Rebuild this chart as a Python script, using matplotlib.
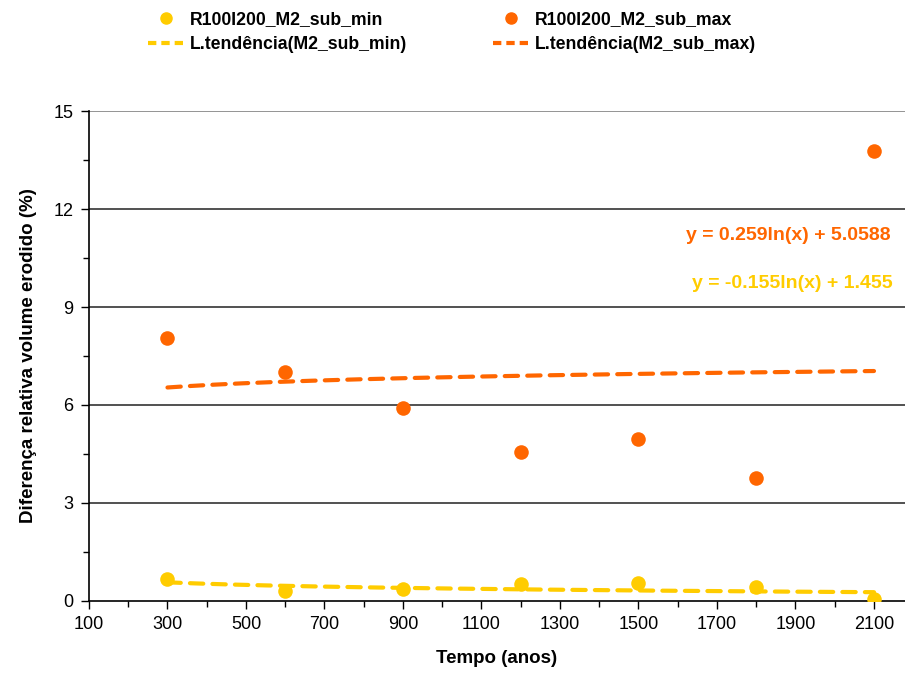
import numpy as np
import matplotlib
matplotlib.use("Agg")
import matplotlib.pyplot as plt
from matplotlib.lines import Line2D
from matplotlib.ticker import MultipleLocator

plt.rcParams['font.family'] = ['Liberation Sans', 'DejaVu Sans']

# Data
tempo = [300, 600, 900, 1200, 1500, 1800, 2100]
sub_min = [0.67, 0.31, 0.37, 0.52, 0.55, 0.43, 0.06]
sub_max = [8.05, 7.01, 5.91, 4.56, 4.96, 3.76, 13.77]

# Logarithmic trend coefficients: y = a*ln(x) + b
coef_min = (-0.155, 1.455)
coef_max = (0.259, 5.0588)

label_min = "R100I200_M2_sub_min"
label_max = "R100I200_M2_sub_max"
label_tmin = "L.tendência(M2_sub_min)"
label_tmax = "L.tendência(M2_sub_max)"

c_min = "#FFCC00"
c_max = "#FF6600"

fig = plt.figure(figsize=(9.05, 6.82), dpi=100)
ax = fig.add_axes([0.0983, 0.1188, 0.9017, 0.7184])

xt = np.linspace(tempo[0], tempo[-1], 200)
ax.plot(xt, coef_min[0] * np.log(xt) + coef_min[1], color=c_min,
        lw=3, dashes=(3.2, 2.2), dash_capstyle='round', zorder=3)
ax.plot(xt, coef_max[0] * np.log(xt) + coef_max[1], color=c_max,
        lw=3, dashes=(3.2, 2.2), dash_capstyle='round', zorder=3)
ax.scatter(tempo, sub_min, s=110, color=c_min, zorder=4, linewidths=0)
ax.scatter(tempo, sub_max, s=110, color=c_max, zorder=4, linewidths=0)

ax.set_xlim(100, 2179)
ax.set_ylim(0, 15)
ax.xaxis.set_minor_locator(MultipleLocator(100))
ax.yaxis.set_major_locator(MultipleLocator(3))
ax.yaxis.set_minor_locator(MultipleLocator(1.5))
ax.set_xticks(np.arange(100, 2101, 200))

ax.tick_params(axis='both', which='both', direction='out', color='black')
ax.tick_params(axis='both', which='major', length=6, width=1, labelsize=13, pad=5)
ax.tick_params(axis='both', which='minor', length=4, width=1)

for s in ['top', 'right']:
    ax.spines[s].set_visible(False)
for s in ['left', 'bottom']:
    ax.spines[s].set_color('black')
    ax.spines[s].set_linewidth(1.2)

for yv in [3, 6, 9, 12, 15]:
    ax.axhline(yv, color='#222222' if yv < 15 else '#777777', lw=1.1, zorder=1)

ax.set_xlabel("Tempo (anos)", fontsize=13.5, fontweight='bold', labelpad=12)
ax.set_ylabel("Diferença relativa volume erodido (%)", fontsize=13.5,
              fontweight='bold', labelpad=12)

ax.text(0.982, 0.745, "y = 0.259ln(x) + 5.0588", transform=ax.transAxes,
        ha='right', va='center', color=c_max, fontsize=14, fontweight='bold')
ax.text(0.985, 0.648, "y = -0.155ln(x) + 1.455", transform=ax.transAxes,
        ha='right', va='center', color=c_min, fontsize=14, fontweight='bold')

# Legend handles: smaller dots and short dashes
h_min = Line2D([], [], ls='none', marker='o', ms=8, color=c_min)
h_max = Line2D([], [], ls='none', marker='o', ms=8, color=c_max)
h_tmin = Line2D([], [], color=c_min, lw=3, dashes=(2.0, 1.2))
h_tmax = Line2D([], [], color=c_max, lw=3, dashes=(2.0, 1.2))

leg = fig.legend([h_min, h_tmin, h_max, h_tmax],
                 [label_min, label_tmin, label_max, label_tmax],
                 ncol=2, loc='upper left', bbox_to_anchor=(0.146, 1.007),
                 frameon=False, columnspacing=4.9,
                 handlelength=2.0, handletextpad=0.35, labelspacing=0.45,
                 prop={'weight': 'bold', 'size': 12.7})

fig.savefig("out.png", dpi=100)
